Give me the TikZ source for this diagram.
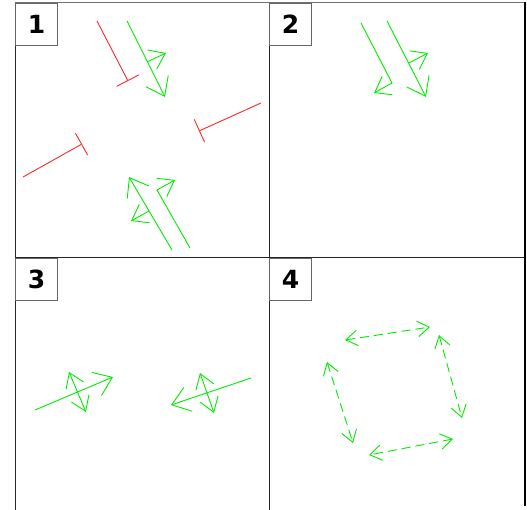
\documentclass[tikz,border=0pt]{standalone}
\usepackage{fontspec}
\setmainfont{DejaVu Sans}
\usetikzlibrary{arrows.meta}
\definecolor{gr}{RGB}{0,235,0}
\definecolor{rd}{RGB}{255,40,40}
\tikzset{
  frameline/.style={draw=black!85, line width=1pt},
  labelbox/.style={draw=black!60, line width=1pt, minimum width=42pt, minimum height=42pt, inner sep=0pt, anchor=north west, font=\bfseries\fontsize{25}{25}\selectfont},
  act/.style={draw=gr, line width=0.9pt, -{Straight Barb[length=17pt,width=25pt,line width=0.9pt]}},
  actsmall/.style={draw=gr, line width=0.9pt, -{Straight Barb[length=14.5pt,width=21pt,line width=0.9pt]}},
  dbl/.style={draw=gr, line width=0.9pt, {Straight Barb[length=14pt,width=19pt,line width=0.9pt]}-{Straight Barb[length=14pt,width=19pt,line width=0.9pt]}},
  dashdbl/.style={draw=gr, line width=0.9pt, dash pattern=on 9pt off 5pt, {Straight Barb[length=11.7pt,width=15.5pt,line width=0.9pt]}-{Straight Barb[length=11.7pt,width=15.5pt,line width=0.9pt]}},
  inh/.style={draw=rd, line width=0.9pt, -{Bar[width=25pt,line width=0.9pt]}}
}
\begin{document}
\begin{tikzpicture}[x=1pt,y=-1pt]
\useasboundingbox (0,0) rectangle (527,510);
% frame
\draw[draw=black!55, line width=1pt] (15,3) -- (525,3);
\draw[frameline] (15,3) -- (15,510);
\draw[frameline] (269,3) -- (269,510);
\draw[frameline] (15,258) -- (525,258);
\draw[draw=black, line width=2.5pt] (525,2) -- (525,506);
% labels
\node[labelbox] (l1) at (15,3) {1};
\node[labelbox] (l2) at (269,3) {2};
\node[labelbox] (l3) at (15,258) {3};
\node[labelbox] (l4) at (269,258) {4};
% panel 1
\draw[inh] (97,21) -- (128,81);
\draw[inh] (261,103) -- (199,131);
\draw[inh] (23,177) -- (82,144);
\draw[act] (127,21) -- (165,97);
\draw[actsmall] (147,62) -- (166,53);
\draw[act] (172,250) -- (129,177);
\draw[actsmall] (149,211) -- (131,221);
\draw[actsmall] (190,248) -- (157,190) -- (175,180);
% panel 2
\draw[actsmall] (361,23) -- (392,83) -- (374,93);
\draw[act] (387,21) -- (426,97);
\draw[actsmall] (409,63) -- (428,53);
% panel 3
\draw[act] (35,410) -- (113,377);
\draw[dbl] (69,372) -- (86,412);
\draw[act] (251,378) -- (171,405);
\draw[dbl] (200,373) -- (214,413);
% panel 4
\draw[dashdbl] (345,340) -- (430,327);
\draw[dashdbl] (439,335) -- (462,418);
\draw[dashdbl] (453,439) -- (369,455);
\draw[dashdbl] (327,362) -- (353,443);
\end{tikzpicture}
\end{document}
